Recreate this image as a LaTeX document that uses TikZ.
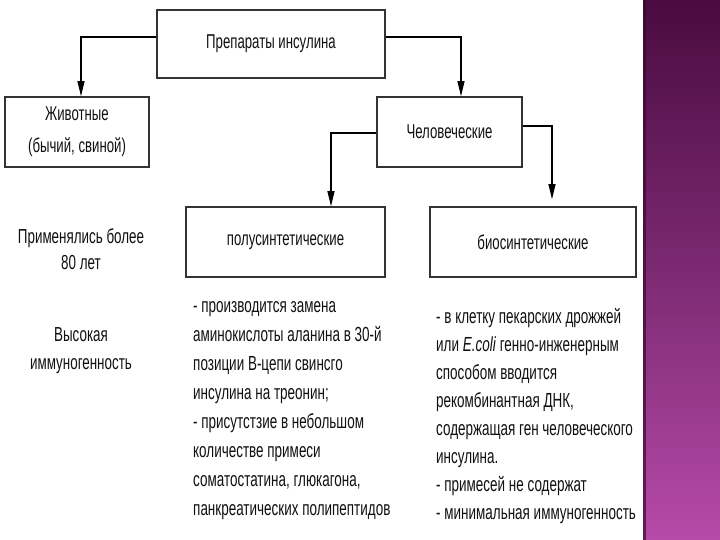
\documentclass[tikz,border=0pt]{standalone}
\usepackage{fontspec}
\setmainfont{Liberation Sans}[FakeStretch=0.66]
\usetikzlibrary{arrows.meta,calc}
\definecolor{boxline}{HTML}{333333}
\definecolor{bandtop}{HTML}{4A0B40}
\definecolor{bandmid}{HTML}{7C2A72}
\definecolor{bandbot}{HTML}{B64AA8}
\definecolor{txt}{HTML}{111111}
\tikzset{
  boxnode/.style={draw=boxline,line width=1.6pt,rectangle,inner sep=0pt,align=center,font=\fontsize{20}{32}\selectfont,text=txt},
  conn/.style={draw=black,line width=1.1pt,-{Triangle[length=15pt,width=7pt]}},
  bodytext/.style={inner sep=0pt,align=left,text=txt,font=\fontsize{20.4}{29.1}\selectfont},
  sidetext/.style={inner sep=0pt,align=center,text=txt,font=\fontsize{20.3}{26}\selectfont}
}
\begin{document}
\begin{tikzpicture}[x=1pt,y=-1pt]
\useasboundingbox (0,0) rectangle (720,540);
\fill[white] (0,0) rectangle (720,540);
% purple band
\shade[top color=bandtop,bottom color=bandbot,middle color=bandmid] (643,0) rectangle (720,540);
\fill[bandtop!80!black,opacity=0.7] (643,0) rectangle (646,540);
% boxes
\node[boxnode,minimum width=228pt,minimum height=68pt] (top) at (271,44) {Препараты инсулина};
\node[boxnode,minimum width=144pt,minimum height=70pt] (animals) at (77,132) {Животные\\(бычий, свиной)};
\node[boxnode,minimum width=145pt,minimum height=70pt] (human) at (449.5,132) {Человеческие};
\node[boxnode,minimum width=199pt,minimum height=70pt] (semi) at (285.5,242) {полусинтетические};
\node[boxnode,minimum width=206pt,minimum height=70pt] (bio) at (533,242) {биосинтетические};
% connectors
\coordinate (bioend) at ([xshift=19pt,yshift=7pt]bio.north);
\draw[conn] ([yshift=7pt]top.west) -| ([xshift=4pt]animals.north);
\draw[conn] ([yshift=7pt]top.east) -| ([xshift=11.5pt]human.north);
\draw[conn] ([yshift=-1pt]human.west) -| ([xshift=45.5pt]semi.north);
\draw[conn] ([yshift=6pt]human.east) -| (bioend);
% side texts
\node[sidetext] (used) at (81,249) {Применялись более\\80 лет};
\node[sidetext,font=\fontsize{20.3}{28}\selectfont] (immuno) at (81,351) {Высокая\\иммуногенность};
% body texts
\node[bodytext,anchor=north west] (semitext) at (193,301) {- производится замена\\аминокислоты аланина в 30-й\\позиции В-цепи свинсго\\инсулина на треонин;\\- присутстзие в небольшом\\количестве примеси\\соматостатина, глюкагона,\\панкреатических полипептидов};
\node[bodytext,anchor=north west,font=\fontsize{20.4}{28}\selectfont] (biotext) at (436,308) {- в клетку пекарских дрожжей\\или \textit{E.coli} генно-инженерным\\способом вводится\\рекомбинантная ДНК,\\содержащая ген человеческого\\инсулина.\\- примесей не содержат\\- минимальная иммуногенность};
\end{tikzpicture}
\end{document}
